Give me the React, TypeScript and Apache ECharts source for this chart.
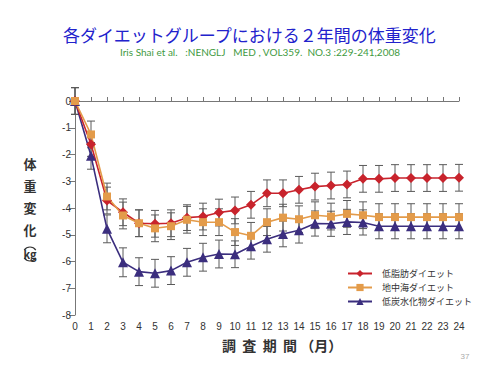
import React, { useEffect, useRef } from "react";
import * as echarts from "echarts";

const months = [0,1,2,3,4,5,6,7,8,9,10,11,12,13,14,15,16,17,18,19,20,21,22,23,24];
const seriesNames = ["低脂肪ダイエット", "地中海ダイエット", "低炭水化物ダイエット"];
const lowFat = [0,-1.62,-3.72,-4.16,-4.57,-4.59,-4.57,-4.36,-4.32,-4.17,-4.09,-3.88,-3.45,-3.45,-3.32,-3.2,-3.16,-3.12,-2.91,-2.91,-2.88,-2.88,-2.88,-2.88,-2.87];
const mediterranean = [0,-1.25,-3.57,-4.28,-4.57,-4.76,-4.68,-4.44,-4.53,-4.53,-4.9,-5.04,-4.53,-4.36,-4.42,-4.27,-4.32,-4.22,-4.27,-4.34,-4.34,-4.34,-4.34,-4.34,-4.34];
const lowCarb = [0,-2.05,-4.78,-6.03,-6.38,-6.44,-6.34,-6.03,-5.84,-5.72,-5.73,-5.43,-5.17,-4.97,-4.83,-4.58,-4.59,-4.52,-4.54,-4.68,-4.68,-4.68,-4.68,-4.68,-4.68];
const lowFatErr = [0.5,0.45,0.5,0.5,0.5,0.5,0.5,0.48,0.5,0.5,0.5,0.5,0.5,0.5,0.5,0.5,0.5,0.5,0.5,0.5,0.5,0.5,0.5,0.5,0.5];
const medErr = [0.5,0.5,0.5,0.5,0.5,0.5,0.5,0.5,0.5,0.5,0.5,0.5,0.5,0.5,0.5,0.5,0.5,0.5,0.5,0.5,0.5,0.5,0.5,0.5,0.5];
const lowCarbErr = [0.5,0.5,0.52,0.54,0.52,0.52,0.52,0.52,0.52,0.52,0.5,0.48,0.48,0.48,0.48,0.47,0.47,0.47,0.47,0.47,0.47,0.47,0.47,0.47,0.47];
const yTicks = [0,-1,-2,-3,-4,-5,-6,-7,-8];
const colors = ["#c8232c", "#e39b4a", "#3b2e7e"];
const symbols = ["diamond", "rect", "triangle"];
const symbolSizes = [10, 8, 10];
const drawOrder = [2, 0, 1];

export default function App() {
  const ref = useRef<HTMLDivElement>(null);
  useEffect(() => {
    const chart = echarts.init(ref.current!, null, { renderer: "svg" });
    const values = [lowFat, mediterranean, lowCarb];
    const errs = [lowFatErr, medErr, lowCarbErr];
    const errSeries = values.map((vals, k) => ({
      type: "custom",
      z: 1,
      silent: true,
      data: months.map((m, i) => [m, vals[i], errs[k][i]]),
      encode: { x: 0, y: 1 },
      renderItem: (params: any, api: any) => {
        const x = api.value(0), y = api.value(1), e = api.value(2);
        const top = api.coord([x, y + e]);
        const bot = api.coord([x, y - e]);
        const hw = 4;
        const st = { stroke: "#5a5a5a", lineWidth: 1 };
        return {
          type: "group",
          children: [
            { type: "line", shape: { x1: top[0], y1: top[1], x2: bot[0], y2: bot[1] }, style: st },
            { type: "line", shape: { x1: top[0] - hw, y1: top[1], x2: top[0] + hw, y2: top[1] }, style: st },
            { type: "line", shape: { x1: bot[0] - hw, y1: bot[1], x2: bot[0] + hw, y2: bot[1] }, style: st },
          ],
        };
      },
    }));
    const lineSeries = drawOrder.map((k) => ({
      name: seriesNames[k],
      type: "line",
      z: 3,
      data: months.map((m, i) => [m, values[k][i]]),
      symbol: symbols[k],
      symbolSize: symbolSizes[k],
      showAllSymbol: true,
      lineStyle: { color: colors[k], width: 1.6 },
      itemStyle: { color: colors[k] },
      ...(k === 2
        ? {
            markLine: {
              silent: true,
              symbol: ["none", "none"],
              label: { show: false },
              lineStyle: { color: "#777", type: [4, 4], width: 1 },
              data: [{ yAxis: 0 }],
              z: 0,
            },
          }
        : {}),
    }));
    const yNameChars = ["体", "重", "変", "化"];
    chart.setOption({
      animation: false,
      grid: { left: 75, right: 41, top: 101, bottom: 60 },
      xAxis: {
        type: "value",
        min: 0,
        max: 24,
        interval: 1,
        axisLine: { lineStyle: { color: "#777" } },
        axisTick: { inside: true, length: 4, lineStyle: { color: "#777" } },
        axisLabel: { color: "#333", fontSize: 10, fontFamily: "Liberation Sans", margin: 6 },
        splitLine: { show: false },
      },
      yAxis: {
        type: "value",
        min: -8,
        max: 0,
        interval: 1,
        axisLine: { show: true, lineStyle: { color: "#777" } },
        axisTick: { show: true, length: 6, lineStyle: { color: "#777" } },
        axisLabel: { color: "#333", fontSize: 10, fontFamily: "Liberation Sans", margin: 4,
          formatter: (v: number) => (yTicks.includes(v) ? String(v) : "") },
        splitLine: { show: false },
      },
      legend: {
        orient: "vertical",
        left: 342,
        top: 264,
        itemWidth: 24,
        itemHeight: 9,
        itemGap: 5,
        data: seriesNames,
        textStyle: { fontSize: 9, color: "#333", fontFamily: "Noto Sans CJK JP", padding: [0, 0, 0, 5] },
      },
      graphic: [
        { type: "text", left: "center", top: 26, style: { text: "各ダイエットグループにおける２年間の体重変化", fill: "#2222cc", font: "17px 'Noto Sans CJK JP'" } },
        { type: "text", x: 120, y: 47, style: { text: "Iris Shai et al.   :NENGLJ   MED , VOL359.  NO.3 :229-241,2008", fill: "#3f9a3f", font: "10px Lato" } },
        ...yNameChars.map((c, i) => ({ type: "text", x: 30, y: 163 + i * 22, style: { text: c, fill: "#333", font: "bold 13px 'Noto Sans CJK JP'", align: "center", verticalAlign: "middle" } })),
        { type: "arc", shape: { cx: 30, cy: 254, r: 7, startAngle: Math.PI + 0.6, endAngle: 2 * Math.PI - 0.6 }, style: { stroke: "#333", lineWidth: 1.2, fill: "none" } },
        { type: "text", x: 30, y: 254, style: { text: "kg", fill: "#333", font: "bold 11px 'Noto Sans CJK JP'", align: "center", verticalAlign: "middle" } },
        { type: "arc", shape: { cx: 30, cy: 254, r: 7, startAngle: 0.6, endAngle: Math.PI - 0.6 }, style: { stroke: "#333", lineWidth: 1.2, fill: "none" } },
        { type: "text", x: 222, y: 345, style: { text: "調  査  期  間 （月）", fill: "#333", font: "bold 14px 'Noto Sans CJK JP'", verticalAlign: "middle" } },
        { type: "text", x: 465, y: 356, style: { text: "37", fill: "#aaa", font: "8px 'Liberation Sans'", align: "center", verticalAlign: "middle" } },
      ],
      series: [...errSeries, ...lineSeries],
    });
    return () => chart.dispose();
  }, []);
  return <div ref={ref} style={{ width: 500, height: 375, position: "absolute", left: 0, top: 0 }} />;
}
